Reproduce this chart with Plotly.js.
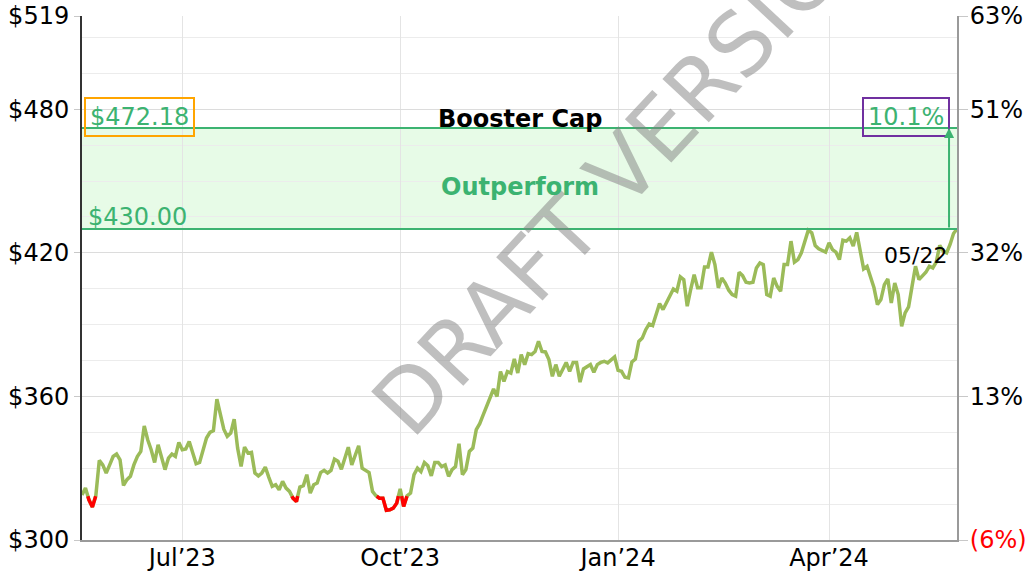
<!DOCTYPE html>
<html>
<head>
<meta charset="utf-8">
<script src="https://cdn.plot.ly/plotly-3.0.1.min.js"></script>
<style>html,body{margin:0;padding:0;background:#fff;}#chart{width:1027px;height:574px;}</style>
</head>
<body>
<div id="chart"></div>
<script>
// ---- data ----
const startDate = '2023-05-19';
const endDate = '2024-05-22';
const marketHolidays = ['2023-05-29','2023-06-19','2023-07-04','2023-09-04','2023-11-23','2023-12-25','2024-01-01','2024-01-15','2024-02-19','2024-03-29'];

const prices = [
  318.8, 321.7, 316.8, 313.8, 318.5, 333.3, 331.4, 328.0, 331.4, 334.9,
  335.9, 333.5, 322.8, 325.2, 326.6, 331.4, 334.9, 337.0, 347.7, 341.9,
  337.7, 332.4, 339.8, 334.2, 329.4, 334.2, 335.9, 334.9, 340.8, 337.7,
  338.0, 341.2, 337.0, 331.9, 332.4, 337.7, 342.6, 345.0, 345.7, 358.9,
  353.0, 346.3, 343.3, 344.7, 350.5, 338.4, 330.7, 338.8, 336.3, 336.6,
  328.0, 326.8, 328.0, 330.5, 326.3, 322.4, 323.1, 321.0, 324.5, 321.7,
  320.3, 317.5, 316.1,
  322.1, 322.7, 327.3, 319.6, 323.1, 323.8, 328.2, 329.1, 328.0, 329.1,
  333.8, 332.9, 329.6, 334.2, 338.8, 331.4, 335.6, 339.4, 330.0, 329.1,
  328.2, 320.3, 318.5, 317.5, 317.5, 312.4, 312.6, 313.3, 315.4, 321.4,
  314.0, 318.5, 319.6, 327.3, 330.0, 328.6, 332.4, 331.0, 326.8, 332.4,
  332.4, 330.7, 331.4, 326.6, 329.4, 330.7, 340.2, 327.3, 329.4, 337.0,
  338.4, 346.1, 348.6, 352.3, 355.8, 359.3, 363.1, 360.0, 370.4, 366.3,
  370.4, 369.8, 375.7,
  369.8, 377.5, 373.3, 377.9, 377.5, 378.8, 383.0, 378.8, 378.6, 375.4,
  368.4, 373.3, 368.4, 371.2, 374.2, 370.5, 374.2, 374.2, 366.0, 371.5,
  372.6, 373.3, 370.1, 373.3, 374.2, 374.7, 374.0, 375.4, 376.5, 370.9,
  370.5, 368.0, 367.7, 374.4, 375.6, 383.0, 384.4, 387.9, 390.3, 389.6,
  393.8, 398.8, 396.3, 399.1, 402.6, 404.9, 404.0, 410.0, 408.8, 397.7,
  404.7, 410.9, 405.4, 405.4, 414.1, 414.1, 420.3, 415.1, 405.4,
  409.5, 407.4, 404.4, 402.6, 401.9, 411.9, 410.5, 407.7, 407.4, 407.7,
  413.7, 415.8, 415.1, 402.6, 401.9, 409.5, 406.0, 404.0, 415.1, 415.1,
  424.9, 416.1, 417.2, 420.0, 424.2, 429.5, 428.4, 423.1, 421.7, 421.1,
  420.3, 424.2, 421.4, 420.3, 417.2, 425.3, 424.9, 426.3, 422.8, 428.6,
  421.4, 413.3, 414.4, 409.5, 405.4, 398.4, 400.5, 406.7, 409.1, 399.1,
  407.4, 402.6, 389.3, 394.9, 397.4, 406.0, 414.4, 408.8, 410.2, 411.9,
  414.4, 413.7, 416.1, 423.1, 420.7, 420.0, 423.5, 428.1, 430.0
];

const basePrice = 318.3;          // 0% reference level
const capLevel = 472.18;          // Booster Cap
const floorLevel = 430.00;        // Outperform floor
const capReturnText = '10.1%';
const yTickVals = [300, 360, 420, 480, 519];
const xTickMonths = ['2023-07', '2023-10', '2024-01', '2024-04'];
const xTickText = ['Jul\u201923', 'Oct\u201923', 'Jan\u201924', 'Apr\u201924'];
const capLabel = 'Booster Cap';
const bandLabel = 'Outperform';
const watermark = 'DRAFT VERSION';

// ---- build trading-day calendar ----
function iso(d){ return d.toISOString().slice(0,10); }
const dates = [];
for (let d = new Date(startDate + 'T00:00:00Z'); iso(d) <= endDate; d.setUTCDate(d.getUTCDate()+1)) {
  const wd = d.getUTCDay();
  if (wd === 0 || wd === 6) continue;
  if (marketHolidays.includes(iso(d))) continue;
  dates.push(iso(d));
}
const n = prices.length;
const xs = prices.map((_, i) => i);
const tickvals = xTickMonths.map(m => dates.findIndex(s => s.startsWith(m)));

// ---- red segments below base ----
const redX = [], redY = [];
let inRun = false;
for (let i = 0; i < n; i++) {
  const below = prices[i] < basePrice;
  if (below) {
    if (!inRun) {
      if (i > 0) { const a = prices[i-1], b = prices[i]; const t = (basePrice - a)/(b - a); redX.push(i-1+t); redY.push(basePrice); }
      inRun = true;
    }
    redX.push(i); redY.push(prices[i]);
  } else if (inRun) {
    const a = prices[i-1], b = prices[i]; const t = (basePrice - a)/(b - a);
    redX.push(i-1+t); redY.push(basePrice); redX.push(null); redY.push(null);
    inRun = false;
  }
}

function pctLabel(v){
  const p = Math.round((v/basePrice - 1)*100);
  return p < 0 ? '<span style="color:#ff0000">(' + Math.abs(p) + '%)</span>' : p + '%';
}

const green = '#3cb371';
const lastDate = dates[Math.min(n-1, dates.length-1)] || endDate;
const lastLabel = lastDate.slice(5,7) + '/' + lastDate.slice(8,10);

const traces = [
  {x: xs, y: prices, type: 'scatter', mode: 'lines', line: {color: '#9bbb59', width: 3.5}, hoverinfo: 'skip'},
  {x: redX, y: redY, type: 'scatter', mode: 'lines', line: {color: '#ff0000', width: 3.5}, hoverinfo: 'skip', connectgaps: false},
  {x: [0, n-1], y: [yTickVals[0], yTickVals[0]], yaxis: 'y2', type: 'scatter', mode: 'lines', line: {color: 'rgba(0,0,0,0)', width: 0}, hoverinfo: 'skip'}
];

const layout = {
  width: 1027, height: 574,
  margin: {l: 82, r: 70, t: 16, b: 34},
  paper_bgcolor: '#ffffff', plot_bgcolor: '#ffffff',
  font: {family: 'DejaVu Sans, Verdana, sans-serif', size: 24, color: '#000'},
  showlegend: false,
  xaxis: {
    range: [0, n-1], tickmode: 'array', tickvals: tickvals, ticktext: xTickText,
    showgrid: true, gridcolor: '#e4e4e4', gridwidth: 1, zeroline: false,
    showline: true, linecolor: '#9a9a9a', linewidth: 2, ticks: '', ticklabelstandoff: -5, fixedrange: true
  },
  yaxis: {
    range: [yTickVals[0], yTickVals[yTickVals.length-1]], tickmode: 'array', tickvals: yTickVals,
    ticktext: yTickVals.map(v => '$' + v),
    showgrid: true, gridcolor: '#dcdcdc', gridwidth: 1,
    minor: {tickmode: 'linear', tick0: 300, dtick: 15, showgrid: true, gridcolor: '#ececec', gridwidth: 1, ticks: ''},
    zeroline: false, showline: true, linecolor: '#333', linewidth: 2,
    ticks: 'outside', ticklen: 6, tickcolor: '#c8c8c8', tickwidth: 1, fixedrange: true
  },
  yaxis2: {
    overlaying: 'y', side: 'right',
    range: [yTickVals[0], yTickVals[yTickVals.length-1]], tickmode: 'array', tickvals: yTickVals,
    ticktext: yTickVals.map(pctLabel),
    showgrid: false, zeroline: false, showline: true, linecolor: '#9a9a9a', linewidth: 2,
    ticks: 'outside', ticklen: 9, tickcolor: '#c8c8c8', tickwidth: 1, ticklabelstandoff: -3, fixedrange: true
  },
  shapes: [
    {type: 'rect', xref: 'paper', x0: 0, x1: 1, yref: 'y', y0: floorLevel, y1: capLevel,
     fillcolor: 'rgba(144,238,144,0.22)', line: {width: 0}, layer: 'below'},
    {type: 'line', xref: 'paper', x0: 0, x1: 1, yref: 'y', y0: capLevel, y1: capLevel,
     line: {color: green, width: 2}, layer: 'above'},
    {type: 'line', xref: 'paper', x0: 0, x1: 1, yref: 'y', y0: floorLevel, y1: floorLevel,
     line: {color: green, width: 2}, layer: 'above'}
  ],
  annotations: [
    {text: watermark, xref: 'paper', yref: 'paper', x: 0.625, y: 0.718, textangle: -47,
     showarrow: false, font: {size: 87, color: 'rgba(128,128,128,0.5)'}, xanchor: 'center', yanchor: 'middle'},
    {text: '$' + capLevel.toFixed(2), xref: 'paper', yref: 'y', x: 0, y: capLevel, xanchor: 'left', yanchor: 'middle',
     xshift: 2, yshift: 11, showarrow: false, font: {size: 24, color: green},
     bordercolor: '#ffa500', borderwidth: 2, borderpad: 4},
    {text: capReturnText, xref: 'paper', yref: 'y', x: 1, y: capLevel, xanchor: 'right', yanchor: 'middle',
     xshift: -7, yshift: 11, showarrow: false, font: {size: 24, color: green},
     bordercolor: '#7030a0', borderwidth: 2, borderpad: 4},
    {text: '$' + floorLevel.toFixed(2), xref: 'paper', yref: 'y', x: 0, y: floorLevel, xanchor: 'left', yanchor: 'bottom',
     xshift: 4, yshift: -4, showarrow: false, font: {size: 24, color: green}},
    {text: '<b>' + capLabel + '</b>', xref: 'paper', yref: 'y', x: 0.5, y: capLevel, xanchor: 'center', yanchor: 'bottom',
     yshift: -7, showarrow: false, font: {size: 24, color: '#000'}},
    {text: '<b>' + bandLabel + '</b>', xref: 'paper', yref: 'y', x: 0.5, y: (capLevel + floorLevel)/2 - 3.6, xanchor: 'center', yanchor: 'middle',
     showarrow: false, font: {size: 24, color: green}},
    {text: lastLabel, xref: 'x', yref: 'y', x: n-1, y: 419, xanchor: 'right', yanchor: 'middle',
     xshift: -8, showarrow: false, font: {size: 22, color: '#000'}},
    {text: '', xref: 'paper', yref: 'y', x: 0.9909, y: capLevel, axref: 'pixel', ax: 0, ayref: 'y', ay: floorLevel,
     showarrow: true, arrowhead: 2, arrowsize: 1, arrowwidth: 2, arrowcolor: green}
  ]
};

Plotly.newPlot('chart', traces, layout, {displayModeBar: false, staticPlot: true});
</script>
</body>
</html>
